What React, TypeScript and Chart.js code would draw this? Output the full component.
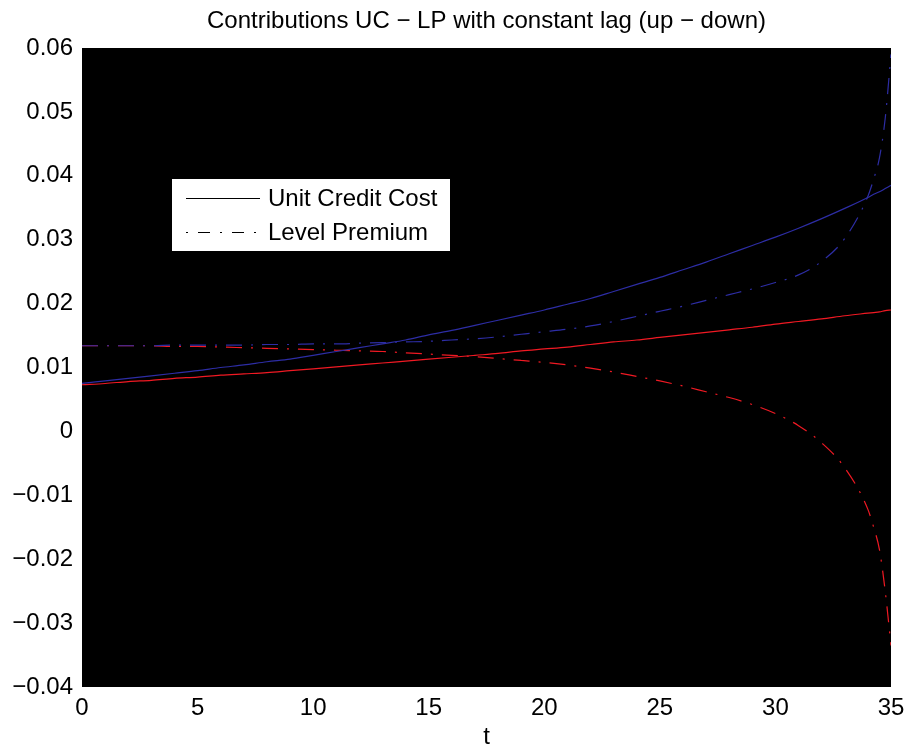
import React, { useEffect, useRef } from 'react';
import { Chart, registerables } from 'chart.js';

Chart.register(...registerables);

const tValues = [0, 1, 2, 3, 4, 5, 6, 7, 8, 9, 10, 11, 12, 13, 14, 15, 16, 17, 18, 19, 20, 21, 22, 23, 24, 25, 26, 27, 28, 29, 30, 31, 32, 33, 34, 34.25, 34.5, 34.75, 35];

// Unit Credit Cost, up (blue solid)
const ucUp = [0.0075, 0.0079, 0.0083, 0.0087, 0.0091, 0.0095, 0.0100, 0.0104, 0.0109, 0.0113, 0.0119, 0.0125, 0.0131, 0.0137, 0.0143, 0.0151, 0.0158, 0.0166, 0.0174, 0.0182, 0.0190, 0.0199, 0.0208, 0.0219, 0.0230, 0.0241, 0.0253, 0.0265, 0.0278, 0.0291, 0.0304, 0.0318, 0.0333, 0.0349, 0.0366, 0.0371, 0.0375, 0.0380, 0.0385];
// Unit Credit Cost, down (red solid)
const ucDown = [0.0073, 0.0075, 0.0078, 0.0080, 0.0083, 0.0085, 0.0088, 0.0090, 0.0092, 0.0095, 0.0098, 0.0101, 0.0104, 0.0107, 0.0110, 0.0113, 0.0116, 0.0119, 0.0122, 0.0126, 0.0129, 0.0132, 0.0136, 0.0140, 0.0143, 0.0147, 0.0151, 0.0155, 0.0159, 0.0163, 0.0168, 0.0172, 0.0176, 0.0181, 0.0185, 0.0186, 0.0187, 0.0189, 0.0190];
// Level Premium, up (blue dash-dot)
const lpUp = [0.0134, 0.0134, 0.0134, 0.0134, 0.0135, 0.0135, 0.0135, 0.0135, 0.0136, 0.0136, 0.0137, 0.0137, 0.0138, 0.0139, 0.0140, 0.0141, 0.0143, 0.0145, 0.0148, 0.0152, 0.0156, 0.0160, 0.0165, 0.0172, 0.0180, 0.0188, 0.0196, 0.0205, 0.0214, 0.0223, 0.0233, 0.0245, 0.0266, 0.0302, 0.0368, 0.0395, 0.0428, 0.0490, 0.0590];
// Level Premium, down (red dash-dot)
const lpDown = [0.0134, 0.0134, 0.0134, 0.0134, 0.0133, 0.0133, 0.0132, 0.0131, 0.0130, 0.0129, 0.0128, 0.0127, 0.0126, 0.0125, 0.0123, 0.0121, 0.0119, 0.0117, 0.0114, 0.0111, 0.0108, 0.0104, 0.0099, 0.0093, 0.0086, 0.0079, 0.0071, 0.0062, 0.0053, 0.0042, 0.0028, 0.0009, -0.0018, -0.0057, -0.0122, -0.0150, -0.0185, -0.0250, -0.0335];

const yTickLabels = ['\u22120.04', '\u22120.03', '\u22120.02', '\u22120.01', '0', '0.01', '0.02', '0.03', '0.04', '0.05', '0.06'];
const legendLabels = ['Unit Credit Cost', 'Level Premium'];
const titleText = 'Contributions UC \u2212 LP with constant lag (up \u2212 down)';
const xAxisTitle = 't';

const BLUE = 'rgb(45,45,165)';
const RED = 'rgb(240,25,35)';
const DASHDOT = [16, 9, 2, 9];
const FONT = "'Liberation Sans', Arial, Helvetica, sans-serif";
const FSIZE = 24;

const toPts = (arr: number[]) => tValues.map((t, i) => ({ x: t, y: arr[i] }));

const bgPlugin = {
  id: 'blackArea',
  beforeDraw(chart: any) {
    const { ctx, chartArea } = chart;
    ctx.save();
    ctx.fillStyle = '#000';
    ctx.fillRect(chartArea.left, chartArea.top, chartArea.right - chartArea.left, chartArea.bottom - chartArea.top);
    ctx.restore();
  },
};

const overlayPlugin = {
  id: 'overlay',
  afterDraw(chart: any) {
    const { ctx, chartArea } = chart;
    ctx.save();
    // title
    ctx.fillStyle = '#000';
    ctx.font = `${FSIZE}px ${FONT}`;
    ctx.textAlign = 'center';
    ctx.textBaseline = 'middle';
    ctx.fillText(titleText, (chartArea.left + chartArea.right) / 2, 21);
    // legend
    const bx = 172, by = 179, bw = 278, bh = 72;
    ctx.fillStyle = '#fff';
    ctx.fillRect(bx, by, bw, bh);
    ctx.strokeStyle = '#000';
    ctx.lineWidth = 1;
    const rows = [198.5, 232.5];
    ctx.setLineDash([]);
    ctx.beginPath();
    ctx.moveTo(186, rows[0]);
    ctx.lineTo(260, rows[0]);
    ctx.stroke();
    ctx.setLineDash([2, 10, 12, 10]);
    ctx.beginPath();
    ctx.moveTo(186, rows[1]);
    ctx.lineTo(260, rows[1]);
    ctx.stroke();
    ctx.setLineDash([]);
    ctx.fillStyle = '#000';
    ctx.textAlign = 'left';
    ctx.textBaseline = 'middle';
    ctx.fillText(legendLabels[0], 268, rows[0] + 1);
    ctx.fillText(legendLabels[1], 268, rows[1] + 1);
    ctx.restore();
  },
};

export default function App() {
  const ref = useRef<HTMLCanvasElement | null>(null);
  useEffect(() => {
    if (!ref.current) return;
    Chart.defaults.font.family = FONT;
    Chart.defaults.color = '#000';
    const chart = new Chart(ref.current, {
      type: 'line',
      data: {
        datasets: [
          { label: 'UC up', data: toPts(ucUp), borderColor: BLUE, borderWidth: 1.2, pointRadius: 0, cubicInterpolationMode: 'monotone' },
          { label: 'UC down', data: toPts(ucDown), borderColor: RED, borderWidth: 1.2, pointRadius: 0, cubicInterpolationMode: 'monotone' },
          { label: 'LP up', data: toPts(lpUp), borderColor: BLUE, borderWidth: 1.2, borderDash: DASHDOT, pointRadius: 0, cubicInterpolationMode: 'monotone' },
          { label: 'LP down', data: toPts(lpDown), borderColor: RED, borderWidth: 1.2, borderDash: DASHDOT, pointRadius: 0, cubicInterpolationMode: 'monotone' },
        ],
      },
      options: {
        animation: false,
        responsive: false,
        maintainAspectRatio: false,
        layout: { padding: { top: 48, right: 18, bottom: 0, left: 0 } },
        plugins: { legend: { display: false }, tooltip: { enabled: false }, title: { display: false } },
        scales: {
          x: {
            type: 'linear',
            min: 0,
            max: 35,
            grid: { display: false, drawTicks: false },
            border: { display: false },
            ticks: { stepSize: 5, padding: 7, font: { size: FSIZE }, color: '#000', maxRotation: 0 },
            title: { display: true, text: xAxisTitle, font: { size: FSIZE }, color: '#000', padding: 0 },
            afterFit: (s: any) => { s.height = 65; s.paddingRight = 0; s.paddingLeft = 0; },
          },
          y: {
            type: 'linear',
            min: -0.04,
            max: 0.06,
            grid: { display: false, drawTicks: false },
            border: { display: false },
            ticks: { stepSize: 0.01, padding: 9, font: { size: FSIZE }, color: '#000', callback: (_v: any, i: number) => yTickLabels[i] },
            afterFit: (s: any) => { s.width = 82; s.paddingTop = 0; s.paddingBottom = 0; },
          },
        },
      },
      plugins: [bgPlugin, overlayPlugin],
    } as any);
    return () => chart.destroy();
  }, []);
  return (
    <div style={{ position: 'fixed', left: 0, top: 0, width: 909, height: 752, background: '#fff' }}>
      <canvas ref={ref} width={909} height={752} style={{ display: 'block', width: 909, height: 752 }} />
    </div>
  );
}
